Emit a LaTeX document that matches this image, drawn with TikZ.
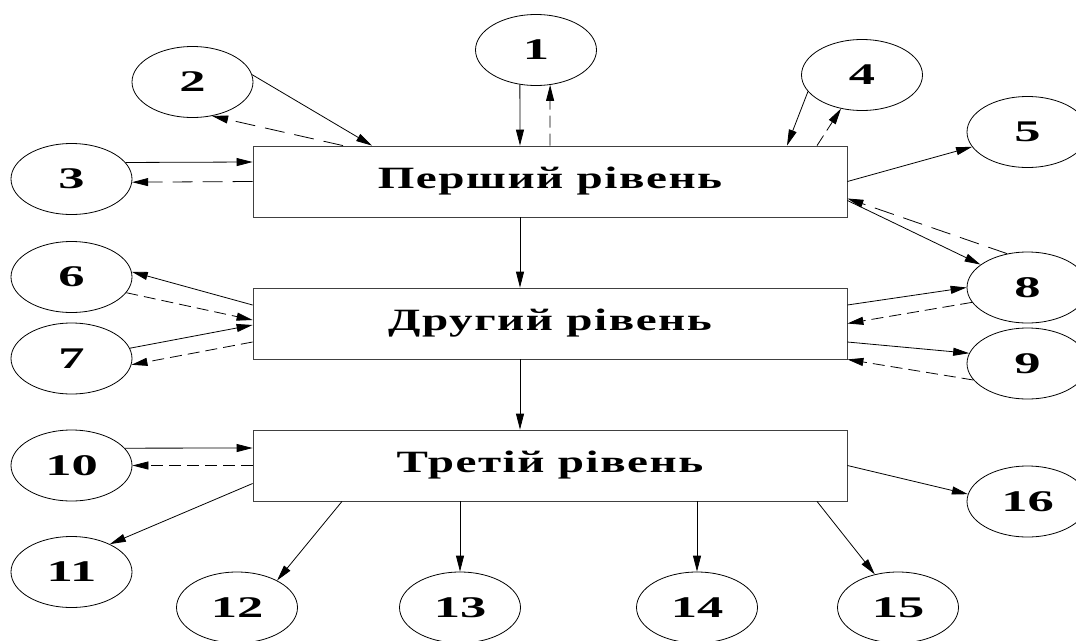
\documentclass[tikz,border=0pt]{standalone}
\usepackage{fontspec}
\setmainfont{Liberation Serif}
\newfontfamily\numfont{Liberation Serif}[FakeStretch=1.75]
\newfontfamily\levelfont{Liberation Serif}[FakeStretch=1.52, LetterSpace=5]
\usetikzlibrary{arrows.meta,shapes.geometric}

\begin{document}
\begin{tikzpicture}
        [x=1pt, y=-1pt, line width=0.8pt, >={Triangle[length=16pt,width=8pt]},
         oval/.style={shape=ellipse, draw=black, minimum width=121pt, minimum height=71pt, inner sep=0pt,
                      font=\fontsize{30pt}{30pt}\numfont\bfseries},
         level/.style={shape=rectangle, draw=black!75, minimum width=594pt, minimum height=71pt, inner sep=0pt,
                       font=\fontsize{31pt}{31pt}\levelfont\bfseries},
         back/.style={->, dash pattern=on 12pt off 6pt},
         backlong/.style={->, dash pattern=on 20pt off 10pt}]
        \useasboundingbox (0,0) rectangle (1076,640);

        \node[level] (l1) at (550, 181.5) {Перший рівень};
        \node[level] (l2) at (550, 323.5) {Другий рівень};
        \node[level] (l3) at (550, 465.5) {Третій рівень};

        \node[oval] (n1) at (536, 50) {1};
        \node[oval] (n2) at (192.5, 82) {2};
        \node[oval] (n3) at (71.5, 179) {3};
        \node[oval] (n4) at (862, 75) {4};
        \node[oval] (n5) at (1027.5, 132) {5};
        \node[oval] (n6) at (71.5, 277) {6};
        \node[oval] (n7) at (71.5, 358.5) {7};
        \node[oval] (n8) at (1027.5, 287.5) {8};
        \node[oval] (n9) at (1027.5, 363.5) {9};
        \node[oval] (n10) at (71.5, 465.5) {10};
        \node[oval] (n11) at (71.5, 572) {11};
        \node[oval] (n12) at (237, 607.5) {12};
        \node[oval] (n13) at (460, 607.5) {13};
        \node[oval] (n14) at (697, 607.5) {14};
        \node[oval] (n15) at (898, 607.5) {15};
        \node[oval] (n16) at (1027.5, 501.5) {16};

        \draw[->] (n1.-115) -- ([xshift=-30pt]l1.north);
        \draw[back] (l1.north) -- (n1.-68);
        \draw[->] (n2.7) -- ([xshift=-178pt]l1.north);
        \draw[backlong] ([xshift=-207pt]l1.north) -- (n2.-60);
        \draw[->] (n3.17) -- ([yshift=19.5pt]l1.west);
        \draw[backlong] (l1.west) -- (n3.-3);
        \draw[->] (n4.-163) -- ([xshift=237pt]l1.north);
        \draw[back] ([xshift=267pt]l1.north) -- (n4.-122);
        \draw[->] (l1.east) -- (n5.-165);
        \draw[->] ([yshift=-19pt]l1.east) -- (n8.154);
        \draw[backlong] (n8.121) -- ([yshift=-17pt]l1.east);

        \draw[->] ([xshift=-30pt]l1.south) -- ([xshift=-30pt]l2.north);
        \draw[->] ([yshift=18.5pt]l2.west) -- (n6.5);
        \draw[back] (n6.-16) -- ([yshift=3.5pt]l2.west);
        \draw[->] (n7.10) -- ([yshift=-1.5pt]l2.west);
        \draw[back] ([yshift=-18.5pt]l2.west) -- (n7.-6);
        \draw[->] ([yshift=18.5pt]l2.east) -- (n8.180);
        \draw[back] (n8.-165) -- (l2.east);
        \draw[->] ([yshift=-18.5pt]l2.east) -- (n9.170);
        \draw[back] (n9.-163) -- (l2.south east);

        \draw[->] ([xshift=-30pt]l2.south) -- ([xshift=-30pt]l3.north);
        \draw[->] (n10.18) -- ([yshift=17.5pt]l3.west);
        \draw[back] (l3.west) -- (n10.east);
        \draw[->] ([yshift=-18pt]l3.west) -- (n11.36);
        \draw[->] ([xshift=-208pt]l3.south) -- (n12.34);
        \draw[->] ([xshift=-90pt]l3.south) -- (n13.north);
        \draw[->] ([xshift=147pt]l3.south) -- (n14.north);
        \draw[->] ([xshift=267pt]l3.south) -- (n15.125);
        \draw[->] (l3.east) -- (n16.173);
\end{tikzpicture}
\end{document}
